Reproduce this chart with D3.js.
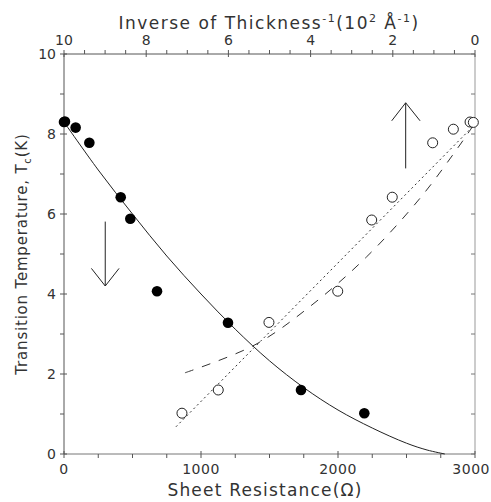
<!DOCTYPE html>
<html>
<head>
<meta charset="UTF-8">
<script src="https://d3js.org/d3.v7.min.js"></script>
<style>
  body { margin: 0; background: #fff; }
  text { font-family: "DejaVu Sans", sans-serif; font-weight: normal; fill: #333; }
</style>
</head>
<body>
<div id="chart"></div>
<script>
// filled circles: Tc vs sheet resistance
const filledR = [0, 7, 85, 185, 414, 484, 679, 1197, 1730, 2192];
const filledTc = [8.3, 8.31, 8.16, 7.78, 6.42, 5.88, 4.07, 3.28, 1.6, 1.02];
// open circles: Tc vs inverse thickness, drawn on the resistance scale
const openR = [861, 1126, 1496, 1998, 2246, 2396, 2691, 2842, 2964, 2988];
const openTc = [1.02, 1.6, 3.29, 4.07, 5.85, 6.42, 7.78, 8.12, 8.3, 8.29];
// solid fit curve
const solidR = [0, 250, 500, 750, 1000, 1250, 1500, 1750, 2000, 2250, 2500, 2650, 2780];
const solidTc = [8.3, 7.1, 6.0, 4.95, 4.0, 3.12, 2.33, 1.66, 1.1, 0.65, 0.27, 0.1, 0];
// dotted line
const dottedR = [817, 2988];
const dottedTc = [0.68, 8.2];
// dashed curve
const dashedR = [883, 1394, 1800, 2209, 2600, 2878, 2985];
const dashedTc = [2.03, 2.73, 3.7, 4.93, 6.4, 7.67, 8.2];

const yTicks = [0, 2, 4, 6, 8, 10];
const xTicks = [0, 1000, 2000, 3000];
const topTicks = [10, 8, 6, 4, 2, 0];

// arrows [x1, y1, x2, y2] in data units
const downArrow = [[301, 5.81, 301, 4.2], [200, 4.64, 301, 4.2], [402, 4.64, 301, 4.2]];
const upArrow = [[2494, 7.14, 2494, 8.78], [2392, 8.33, 2494, 8.78], [2599, 8.33, 2494, 8.78]];

const W = 491, H = 502;
const mLeft = 64, mRight = 475, mTop = 54, mBottom = 454;

const svg = d3.select("#chart").append("svg")
  .attr("width", W).attr("height", H);

const x = d3.scaleLinear().domain([0, 3000]).range([mLeft, mRight]);
const y = d3.scaleLinear().domain([0, 10]).range([mBottom, mTop]);
const xt = d3.scaleLinear().domain([10, 0]).range([mLeft, mRight]);

const axisColor = "#555";

// frame lines
svg.append("line").attr("x1", mLeft).attr("x2", mLeft).attr("y1", mTop).attr("y2", mBottom)
  .attr("stroke", axisColor).attr("stroke-width", 1);
svg.append("line").attr("x1", mRight).attr("x2", mRight).attr("y1", mTop).attr("y2", mBottom)
  .attr("stroke", "#999").attr("stroke-width", 1);
svg.append("line").attr("x1", mLeft).attr("x2", mRight).attr("y1", mTop).attr("y2", mTop)
  .attr("stroke", axisColor).attr("stroke-width", 1);
svg.append("line").attr("x1", mLeft).attr("x2", mRight).attr("y1", mBottom).attr("y2", mBottom)
  .attr("stroke", "#777").attr("stroke-width", 1);

// left and right ticks
d3.range(0, 11, 1).forEach(v => {
  const major = v % 2 === 0;
  svg.append("line").attr("x1", mLeft - 4).attr("x2", major ? mLeft + 3 : mLeft)
    .attr("y1", y(v)).attr("y2", y(v)).attr("stroke", axisColor);
  svg.append("line").attr("x1", mRight - 4).attr("x2", mRight)
    .attr("y1", y(v)).attr("y2", y(v)).attr("stroke", "#777");
});
svg.selectAll(".ylab").data(yTicks).join("text")
  .attr("x", mLeft - 8).attr("y", d => y(d) + 5)
  .attr("text-anchor", "end").attr("font-size", 14)
  .text(d => d);

// bottom ticks
d3.range(0, 3001, 250).forEach(v => {
  const major = v % 1000 === 0;
  svg.append("line").attr("x1", x(v)).attr("x2", x(v))
    .attr("y1", major ? mBottom - 3 : mBottom).attr("y2", mBottom + 4).attr("stroke", axisColor);
});
svg.selectAll(".xlab").data(xTicks).join("text")
  .attr("x", d => d === 3000 ? W - 1 : x(d)).attr("y", mBottom + 20)
  .attr("text-anchor", d => d === 3000 ? "end" : "middle").attr("font-size", 14)
  .attr("letter-spacing", 0.5)
  .text(d => d);

// top ticks
d3.range(0, 10.01, 0.5).forEach(v => {
  const major = v % 2 === 0;
  svg.append("line").attr("x1", xt(v)).attr("x2", xt(v))
    .attr("y1", mTop - 4).attr("y2", major ? mTop + 3 : mTop).attr("stroke", axisColor);
});
svg.selectAll(".tlab").data(topTicks).join("text")
  .attr("x", d => xt(d)).attr("y", mTop - 9)
  .attr("text-anchor", "middle").attr("font-size", 14)
  .text(d => d);

// titles
const tt = svg.append("text").attr("x", 269).attr("y", 29)
  .attr("text-anchor", "middle").attr("font-size", 17).attr("letter-spacing", 1.5);
tt.append("tspan").text("Inverse of Thickness");
tt.append("tspan").attr("font-size", 11).attr("dy", -7).text("-1");
tt.append("tspan").attr("dy", 7).text("(10");
tt.append("tspan").attr("font-size", 11).attr("dy", -7).text("2");
tt.append("tspan").attr("dy", 7).text(" Å");
tt.append("tspan").attr("font-size", 11).attr("dy", -7).text("-1");
tt.append("tspan").attr("dy", 7).text(")");

svg.append("text").attr("x", 265).attr("y", 496)
  .attr("text-anchor", "middle").attr("font-size", 17).attr("letter-spacing", 1.2)
  .text("Sheet Resistance(Ω)");

const yl = svg.append("text")
  .attr("transform", `translate(27,${y(5)}) rotate(-90)`)
  .attr("text-anchor", "middle").attr("font-size", 15).attr("letter-spacing", 0.8);
yl.append("tspan").text("Transition Temperature, T");
yl.append("tspan").attr("font-size", 10).attr("dy", 4).text("c");
yl.append("tspan").attr("dy", -4).text("(K)");

// lines
svg.append("path")
  .datum(solidR.map((r, i) => [r, solidTc[i]]))
  .attr("d", d3.line().x(d => x(d[0])).y(d => y(d[1])).curve(d3.curveCatmullRom))
  .attr("fill", "none").attr("stroke", "#222").attr("stroke-width", 1);
svg.append("path")
  .datum(dottedR.map((r, i) => [r, dottedTc[i]]))
  .attr("d", d3.line().x(d => x(d[0])).y(d => y(d[1])))
  .attr("fill", "none").attr("stroke", "#333").attr("stroke-width", 1)
  .attr("stroke-dasharray", "2,3");
svg.append("path")
  .datum(dashedR.map((r, i) => [r, dashedTc[i]]))
  .attr("d", d3.line().x(d => x(d[0])).y(d => y(d[1])).curve(d3.curveCatmullRom))
  .attr("fill", "none").attr("stroke", "#333").attr("stroke-width", 1)
  .attr("stroke-dasharray", "9,9");

// arrows
[downArrow, upArrow].forEach(a => {
  svg.append("g").selectAll("line").data(a).join("line")
    .attr("x1", d => x(d[0])).attr("y1", d => y(d[1]))
    .attr("x2", d => x(d[2])).attr("y2", d => y(d[3]))
    .attr("stroke", "#222").attr("stroke-width", 1);
});

// points
svg.selectAll(".open").data(openR.map((r, i) => [r, openTc[i]])).join("circle")
  .attr("cx", d => x(d[0])).attr("cy", d => y(d[1])).attr("r", 5)
  .attr("fill", "#fff").attr("stroke", "#222").attr("stroke-width", 1);
svg.selectAll(".filled").data(filledR.map((r, i) => [r, filledTc[i]])).join("circle")
  .attr("cx", d => x(d[0])).attr("cy", d => y(d[1])).attr("r", 5.3)
  .attr("fill", "#000");
</script>
</body>
</html>
